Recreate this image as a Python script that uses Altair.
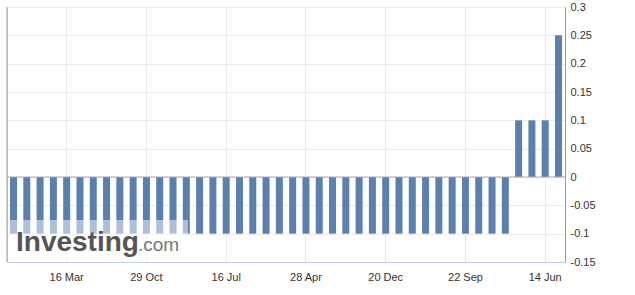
import altair as alt
import pandas as pd

# Meeting dates (categories) and policy rate values (%)
dates = [
    "2019-09-19", "2019-10-31", "2019-12-19", "2020-01-21", "2020-03-16",
    "2020-04-27", "2020-05-22", "2020-06-16", "2020-07-15", "2020-09-17",
    "2020-10-29", "2020-12-18", "2021-01-21", "2021-03-19", "2021-04-27",
    "2021-06-18", "2021-07-16", "2021-09-22", "2021-10-28", "2021-12-17",
    "2022-01-18", "2022-03-18", "2022-04-28", "2022-06-17", "2022-07-21",
    "2022-09-22", "2022-10-28", "2022-11-30", "2022-12-20", "2023-01-18",
    "2023-03-10", "2023-04-28", "2023-06-16", "2023-07-28", "2023-09-22",
    "2023-10-31", "2023-12-19", "2024-01-23", "2024-03-19", "2024-04-26",
    "2024-06-14", "2024-07-31",
]
values = [-0.1] * 38 + [0.1, 0.1, 0.1, 0.25]

tick_dates = ["2020-03-16", "2020-10-29", "2021-07-16", "2022-04-28",
              "2022-12-20", "2023-09-22", "2024-06-14"]
y_ticks = [-0.15, -0.1, -0.05, 0, 0.05, 0.1, 0.15, 0.2, 0.25, 0.3]

df = pd.DataFrame({"date": dates, "value": values})

W, H = 558, 255
yscale = alt.Scale(domain=[-0.15, 0.3], nice=False, zero=False)

x_enc = alt.X(
    "date:N", sort=None,
    scale=alt.Scale(paddingInner=0.473, paddingOuter=0.226),
    axis=alt.Axis(
        title=None, values=tick_dates, labelAngle=0,
        labelExpr="utcFormat(toDate(datum.value), '%d %b')",
        ticks=False, labelPadding=9, labelFontSize=11, labelColor="#333",
        domainColor="#c3cfdc", grid=True, gridColor="#ebebeb",
        labelFont="Liberation Sans", labelOverlap=False,
    ),
)
y_enc = alt.Y(
    "value:Q", scale=yscale,
    axis=alt.Axis(
        title=None, orient="right", values=y_ticks,
        labelExpr="toString(datum.value)",
        ticks=False, labelPadding=5, labelFontSize=11, labelColor="#333",
        domainColor="#999", grid=True, gridColor="#ebebeb",
        labelFont="Liberation Sans", labelBaseline="middle",
        labelOverlap=False, labelBound=False, labelFlush=False,
    ),
)

bars = alt.Chart(df).mark_bar(color="#5b80ae").encode(x=x_enc, y=y_enc)

zero = alt.Chart(pd.DataFrame({"z": [0]})).mark_rule(color="#aaa", strokeWidth=1).encode(
    y=alt.Y("z:Q", scale=yscale, axis=None)
)

left_border = alt.Chart(pd.DataFrame({"a": [0]})).mark_rule(color="#999").encode(
    x=alt.value(0), y=alt.value(0), y2=alt.value(H)
)

overlay = alt.Chart(pd.DataFrame({"a": [0]})).mark_rect(color="white", opacity=0.5).encode(
    x=alt.value(1), x2=alt.value(181), y=alt.value(213), y2=alt.value(253)
)

wm1 = alt.Chart(pd.DataFrame({"t": ["Investing"]})).mark_text(
    align="left", baseline="alphabetic", font="Liberation Sans", fontSize=28,
    fontWeight="bold", color="#555"
).encode(x=alt.value(9), y=alt.value(244), text="t:N")

wm2 = alt.Chart(pd.DataFrame({"t": [".com"]})).mark_text(
    align="left", baseline="alphabetic", font="Liberation Sans", fontSize=19,
    color="#777"
).encode(x=alt.value(131), y=alt.value(244), text="t:N")

chart = alt.layer(bars, zero, left_border, overlay, wm1, wm2).resolve_axis(
    y="independent"
).properties(
    width=W, height=H,
    autosize=alt.AutoSizeParams(type="none"),
    padding={"left": 7, "top": 7, "right": 70, "bottom": 33},
).configure_view(stroke=None).configure(font="Liberation Sans", background="white")

chart.save("out.html", embed_options={"renderer": "svg", "actions": False})
